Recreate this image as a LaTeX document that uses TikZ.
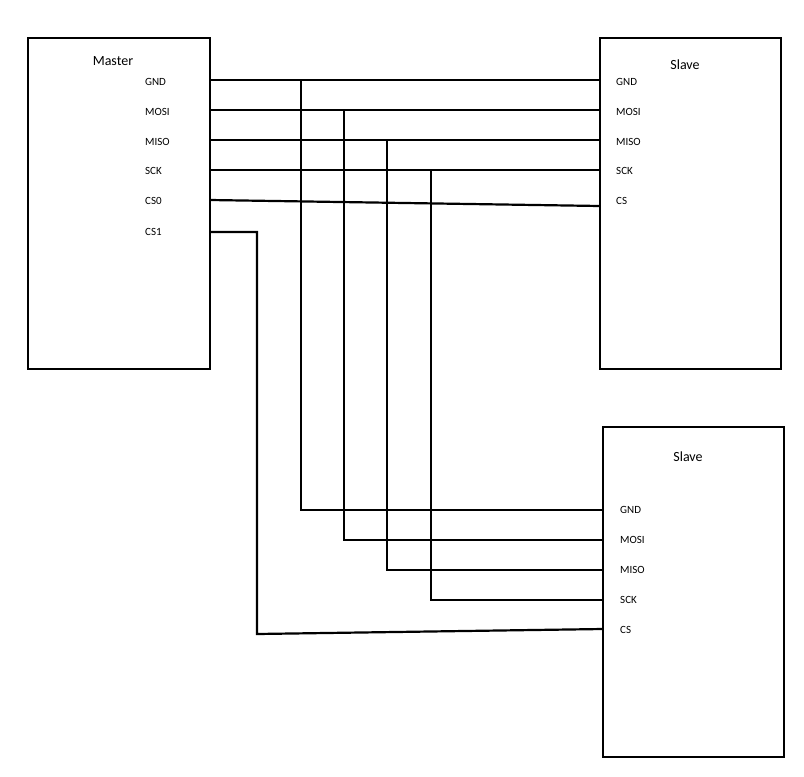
\documentclass[tikz,border=0pt]{standalone}
\usepackage{fontspec}
\setmainfont{Carlito}
\begin{document}
\begin{tikzpicture}[x=1pt,y=-1pt,
  box/.style={draw,line width=2.2pt,minimum width=#1,inner sep=0},
  wire/.style={line width=2.2pt,line join=miter},
  pin/.style={anchor=west,font=\fontsize{11}{12}\selectfont,inner sep=0},
  ttl/.style={font=\fontsize{14}{16}\selectfont,inner sep=0}]
\useasboundingbox (0,0) rectangle (804,777);
\draw[line width=2.2pt] (28,38) rectangle (210,369);
\draw[line width=2.2pt] (600,38) rectangle (781,369);
\draw[line width=2.2pt] (603,427) rectangle (784,757);
\node[ttl] (m) at (113,61) {Master};
\node[ttl] (s1) at (685,65) {Slave};
\node[ttl] (s2) at (688,457) {Slave};
\foreach \t/\y/\n in {GND/82/a,MOSI/112/b,MISO/142/c,SCK/171/d,CS0/201/e,CS1/232/f}
  \node[pin] (m\n) at (145,\y) {\t};
\foreach \t/\y/\n in {GND/82/a,MOSI/112/b,MISO/142/c,SCK/171/d,CS/201/e}
  \node[pin] (p\n) at (616,\y) {\t};
\foreach \t/\y/\n in {GND/510/a,MOSI/540/b,MISO/570/c,SCK/600/d,CS/630/e}
  \node[pin] (q\n) at (620,\y) {\t};
% Master side points
\coordinate (Ma) at (210,80); \coordinate (Mb) at (210,110); \coordinate (Mc) at (210,140);
\coordinate (Md) at (210,170); \coordinate (Me) at (210,200); \coordinate (Mf) at (210,232);
\coordinate (Pa) at (600,80); \coordinate (Pb) at (600,110); \coordinate (Pc) at (600,140);
\coordinate (Pd) at (600,170); \coordinate (Pe) at (600,206);
\coordinate (Qa) at (603,510); \coordinate (Qb) at (603,540); \coordinate (Qc) at (603,570);
\coordinate (Qd) at (603,600); \coordinate (Qe) at (603,629);
\draw[wire] (Ma) -- (Pa); \draw[wire] (Mb) -- (Pb); \draw[wire] (Mc) -- (Pc);
\draw[wire] (Md) -- (Pd); \draw[wire] (Me) -- (Pe);
\draw[wire] (301,80) |- (Qa);
\draw[wire] (344,110) |- (Qb);
\draw[wire] (387,140) |- (Qc);
\draw[wire] (431,170) |- (Qd);
\draw[wire] (Mf) -- (257,232) -- (257,634) -- (Qe);
\end{tikzpicture}
\end{document}
